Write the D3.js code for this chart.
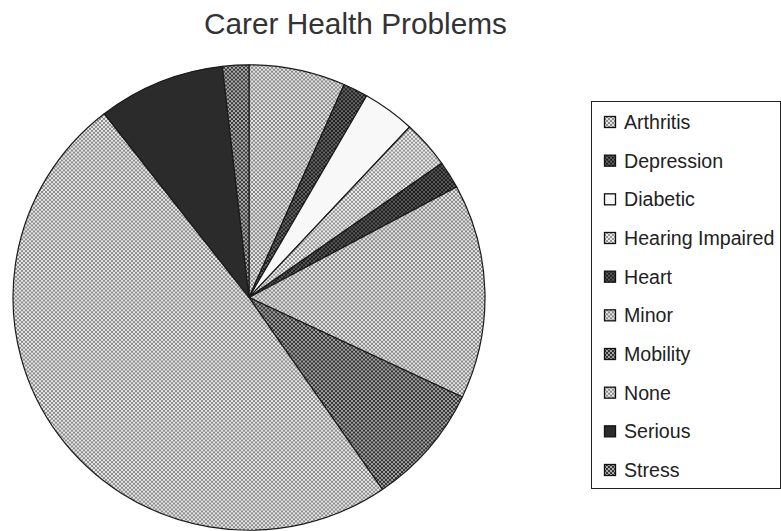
<!DOCTYPE html>
<html>
<head>
<meta charset="utf-8">
<script src="https://cdn.jsdelivr.net/npm/d3@7"></script>
<style>
  html, body { margin: 0; padding: 0; background: #fff; }
  svg { display: block; }
  text { font-family: "Liberation Sans", Arial, sans-serif; }
</style>
</head>
<body>
<svg id="chart" width="781" height="531"></svg>
<script>
// Carer health problems, share of carers (%)
const categories = ["Arthritis", "Depression", "Diabetic", "Hearing Impaired", "Heart",
                    "Minor", "Mobility", "None", "Serious", "Stress"];
const values = [6.6, 1.7, 3.6, 3.3, 1.9, 14.9, 8.4, 49.0, 8.7, 1.8];

// Halftone fill for each category: [paper tone, dot tone]
const tones = [
  ["#e4e4e4", "#888888"], // Arthritis
  ["#666666", "#1e1e1e"], // Depression
  ["#f8f8f8", "#f8f8f8"], // Diabetic
  ["#ececec", "#939393"], // Hearing Impaired
  ["#5a5a5a", "#1c1c1c"], // Heart
  ["#e4e4e4", "#888888"], // Minor
  ["#a0a0a0", "#333333"], // Mobility
  ["#e6e6e6", "#8c8c8c"], // None
  ["#2b2b2b", "#2b2b2b"], // Serious
  ["#acacac", "#383838"]  // Stress
];

const svg = d3.select("#chart");
const defs = svg.append("defs");

tones.forEach((t, i) => {
  const p = defs.append("pattern")
    .attr("id", "tone" + i)
    .attr("patternUnits", "userSpaceOnUse")
    .attr("width", 4).attr("height", 4);
  p.append("rect").attr("width", 4).attr("height", 4).attr("fill", t[0]);
  p.append("rect").attr("x", 0).attr("y", 0).attr("width", 2).attr("height", 2).attr("fill", t[1]);
  p.append("rect").attr("x", 2).attr("y", 2).attr("width", 2).attr("height", 2).attr("fill", t[1]);
});

// Title
svg.append("text")
  .attr("x", 355.5).attr("y", 34)
  .attr("text-anchor", "middle")
  .attr("font-size", 29.8)
  .attr("fill", "#333")
  .text("Carer Health Problems");

// Pie, clockwise from 12 o'clock
const cx = 249, cy = 297.5, r = 236;
const pie = d3.pie().sort(null).value(d => d)
  .startAngle(0).endAngle(2 * Math.PI);
const arc = d3.arc().innerRadius(0).outerRadius(r);

const g = svg.append("g")
  .attr("transform", `translate(${cx},${cy}) scale(1,0.986)`);

g.selectAll("path")
  .data(pie(values))
  .join("path")
  .attr("d", arc)
  .attr("fill", (d, i) => `url(#tone${i})`)
  .attr("stroke", "#1a1a1a")
  .attr("stroke-width", 1.2)
  .attr("stroke-linejoin", "round");

// Legend
const lx = 591, ly = 101, lw = 189, lh = 387;
svg.append("rect")
  .attr("x", lx + 0.5).attr("y", ly + 0.5)
  .attr("width", lw).attr("height", lh)
  .attr("fill", "#fff")
  .attr("stroke", "#222").attr("stroke-width", 1);

const y = d3.scalePoint().domain(categories).range([122, 470]);

const items = svg.append("g").selectAll("g")
  .data(categories)
  .join("g")
  .attr("transform", d => `translate(0,${y(d)})`);

items.append("rect")
  .attr("x", 604.5).attr("y", -5.5)
  .attr("width", 11).attr("height", 11)
  .attr("fill", (d, i) => `url(#tone${i})`)
  .attr("stroke", "#111").attr("stroke-width", 1.3);

items.append("text")
  .attr("x", 624).attr("y", 0)
  .attr("dy", "0.36em")
  .attr("font-size", 19.6)
  .attr("fill", "#222")
  .text(d => d);
</script>
</body>
</html>
